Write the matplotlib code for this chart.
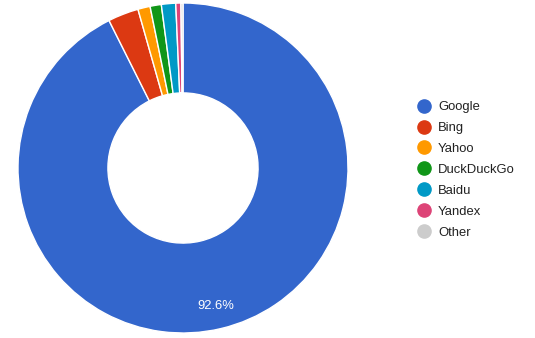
import matplotlib.pyplot as plt
from matplotlib.lines import Line2D

plt.rcParams['font.family'] = ['Liberation Sans', 'DejaVu Sans']

engines = ['Google', 'Bing', 'Yahoo', 'DuckDuckGo', 'Baidu', 'Yandex', 'Other']
share = [92.6, 3.0, 1.2, 1.1, 1.4, 0.5, 0.2]
colors = ['#3366cc', '#dc3912', '#ff9900', '#109618', '#0099c6', '#dd4477', '#cccccc']

W, H = 535, 338
fig = plt.figure(figsize=(W / 100, H / 100), dpi=100)
# donut centre at (183, 168) px, outer radius 165 px
ax = fig.add_axes([18 / W, 5 / H, 330 / W, 330 / H])


def pct(p):
    return f'{p:.1f}%' if p > 50 else ''


wedges, texts, autotexts = ax.pie(
    share, colors=colors, startangle=90, counterclock=False, radius=1,
    autopct=pct, pctdistance=0.86,
    wedgeprops=dict(width=0.545, edgecolor='white', linewidth=1),
    textprops=dict(color='white', fontsize=9.4))
ax.set_xlim(-1, 1)
ax.set_ylim(-1, 1)
ax.set_aspect('equal')
ax.axis('off')

handles = [Line2D([], [], marker='o', linestyle='none', markersize=9.5,
                  markerfacecolor=c, markeredgecolor=c) for c in colors]
fig.legend(handles, engines, loc='upper left',
           bbox_to_anchor=(410 / W, 1 - 94.5 / H), frameon=False,
           fontsize=9.4, labelspacing=0.675, handletextpad=0.45,
           handlelength=1.2, borderpad=0, labelcolor='#222222')

fig.savefig('out.png', dpi=100)
